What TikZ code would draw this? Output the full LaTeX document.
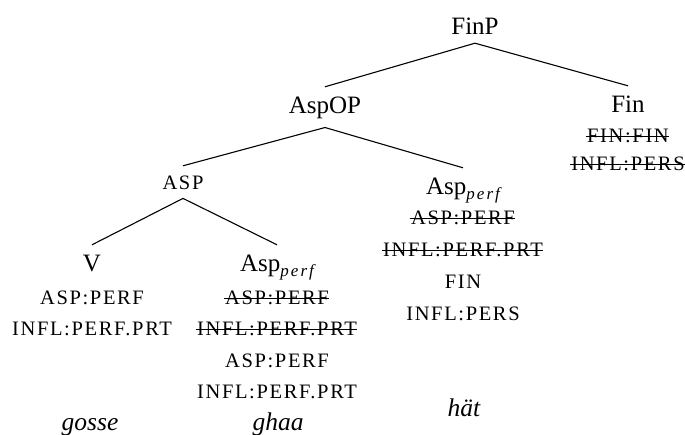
\documentclass[tikz,border=0pt]{standalone}
\usepackage{fontspec}
\setmainfont{Liberation Serif}
\newfontfamily\featfont[LetterSpace=8]{Liberation Serif}
\newfontfamily\subfont[LetterSpace=12]{Liberation Serif}
\newcommand\strk[1]{\setbox0=\hbox{#1}\rlap{\kern-1.5pt\rule[5.8pt]{\dimexpr\wd0+2pt\relax}{1.3pt}}\box0}
\newcommand\perf{\raisebox{-4.5pt}{\subfont\itshape\fontsize{17}{17}\selectfont perf}}
\begin{document}
\begin{tikzpicture}[x=1pt,y=-1pt,
  cat/.style={font=\fontsize{25}{25}\selectfont, anchor=base, inner ysep=8pt, inner xsep=0pt, text height=19pt},
  smallcat/.style={font=\featfont\fontsize{20.5}{20.5}\selectfont, anchor=base, inner ysep=8pt, inner xsep=0pt, text height=16pt},
  feat/.style={font=\featfont\fontsize{20.5}{20.5}\selectfont, anchor=base, inner sep=0pt},
  word/.style={font=\fontsize{25.5}{25.5}\selectfont\itshape, anchor=base, inner sep=0pt},
  branch/.style={line width=1.1pt}]
\useasboundingbox (0,0) rectangle (685,435);
% categories
\node[cat] (FinP) at (475,35) {FinP};
\node[cat] (AspOP) at (325,114) {AspOP};
\node[cat] (Fin) at (628,113) {Fin};
\node[smallcat] (ASP) at (183,190) {ASP};
\node[cat] (AspPr) at (463,195) {Asp\perf};
\node[cat] (V) at (92,272) {V};
\node[cat] (AspPm) at (277,272) {Asp\perf};
% features
\node[feat] (f1) at (628,143) {\strk{FIN:FIN}};
\node[feat] (f2) at (628,171) {\strk{INFL:PERS}};
\node[feat] (r1) at (463,225) {\strk{ASP:PERF}};
\node[feat] (r2) at (463,257) {\strk{INFL:PERF.PRT}};
\node[feat] (r3) at (463,289) {FIN};
\node[feat] (r4) at (463,321) {INFL:PERS};
\node[feat] (v1) at (92,305) {ASP:PERF};
\node[feat] (v2) at (92,336) {INFL:PERF.PRT};
\node[feat] (m1) at (277,305) {\strk{ASP:PERF}};
\node[feat] (m2) at (277,336) {\strk{INFL:PERF.PRT}};
\node[feat] (m3) at (277,367) {ASP:PERF};
\node[feat] (m4) at (277,398) {INFL:PERF.PRT};
% words
\node[word] (gosse) at (90,430) {gosse};
\node[word] (ghaa) at (278,430) {ghaa};
\node[word] (hat) at (464,416) {hät};
% branches
\draw[branch] (FinP.south) -- (AspOP.north);
\draw[branch] (FinP.south) -- (Fin.north);
\draw[branch] (AspOP.south) -- (ASP.north);
\draw[branch] (AspOP.south) -- (AspPr.north);
\draw[branch] (ASP.south) -- (V.north);
\draw[branch] (ASP.south) -- (AspPm.north);
\end{tikzpicture}
\end{document}
